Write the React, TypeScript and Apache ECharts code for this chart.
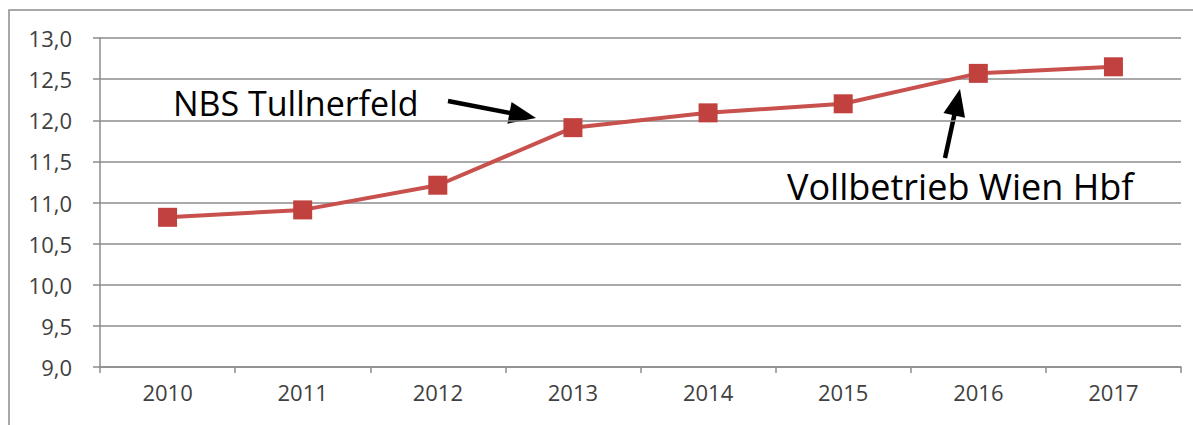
import React, { useEffect, useRef } from "react";
import * as echarts from "echarts";

const years = ["2010", "2011", "2012", "2013", "2014", "2015", "2016", "2017"];
const values = [10.82, 10.91, 11.21, 11.91, 12.09, 12.2, 12.57, 12.65];
const yMin = 9;
const yMax = 13;
const yStep = 0.5;
const noteLeft = "NBS Tullnerfeld";
const noteRight = "Vollbetrieb Wien Hbf";

function arrow(x1: number, y1: number, x2: number, y2: number, headLen: number, headW: number) {
  const dx = x2 - x1;
  const dy = y2 - y1;
  const len = Math.sqrt(dx * dx + dy * dy);
  const ux = dx / len;
  const uy = dy / len;
  const bx = x2 - ux * headLen;
  const by = y2 - uy * headLen;
  const px = -uy;
  const py = ux;
  return [
    {
      type: "line",
      shape: { x1, y1, x2: bx + ux * 2, y2: by + uy * 2 },
      style: { stroke: "#000", lineWidth: 4.5 },
      silent: true,
    },
    {
      type: "polygon",
      shape: {
        points: [
          [x2, y2],
          [bx + px * headW / 2, by + py * headW / 2],
          [bx - px * headW / 2, by - py * headW / 2],
        ],
      },
      style: { fill: "#000" },
      silent: true,
    },
  ];
}

export default function App() {
  const ref = useRef<HTMLDivElement>(null);
  useEffect(() => {
    document.body.style.margin = "0";
    const chart = echarts.init(ref.current!, undefined, { renderer: "svg" });
    const axisColor = "#8c8c8c";
    chart.setOption({
      animation: false,
      backgroundColor: "#fff",
      grid: { left: 100, right: 12, top: 38, bottom: 58, containLabel: false },
      xAxis: {
        type: "category",
        data: years,
        boundaryGap: true,
        axisLine: { lineStyle: { color: axisColor, width: 1.5 } },
        axisTick: { show: true, length: 6, lineStyle: { color: axisColor, width: 1.5 } },
        axisLabel: {
          fontFamily: "Open Sans",
          fontSize: 22,
          color: "#404040",
          margin: 14,
        },
      },
      yAxis: {
        type: "value",
        min: yMin,
        max: yMax,
        interval: yStep,
        axisLine: { show: true, lineStyle: { color: axisColor, width: 1.5 } },
        axisTick: { show: true, length: 7, lineStyle: { color: axisColor, width: 1.5 } },
        splitLine: { lineStyle: { color: axisColor, width: 1.5 } },
        axisLabel: {
          fontFamily: "Open Sans",
          fontSize: 22,
          color: "#404040",
          margin: 28,
          formatter: (v: number) => v.toFixed(1).replace(".", ","),
        },
      },
      series: [
        {
          type: "line",
          data: values,
          symbol: "rect",
          symbolSize: 19,
          lineStyle: { color: "#C8504D", width: 4 },
          itemStyle: { color: "#C0413E" },
        },
      ],
      graphic: [
        {
          type: "polyline",
          shape: { points: [[9, 425], [9, 10], [1193, 10]] },
          style: { stroke: "#8c8c8c", lineWidth: 1.5, fill: null },
          silent: true,
        },
        {
          type: "text",
          x: 173,
          y: 103,
          style: {
            text: noteLeft,
            fontFamily: "Open Sans",
            fontSize: 34,
            fill: "#000",
            align: "left",
            verticalAlign: "middle",
          },
        },
        {
          type: "text",
          x: 787,
          y: 186,
          style: {
            text: noteRight,
            fontFamily: "Open Sans",
            fontSize: 36,
            fill: "#000",
            align: "left",
            verticalAlign: "middle",
          },
        },
        ...arrow(448, 101, 536, 118, 27, 22),
        ...arrow(945, 158, 960, 89, 27, 22),
      ],
    });
    return () => chart.dispose();
  }, []);
  return <div ref={ref} style={{ width: 1193, height: 425 }} />;
}
